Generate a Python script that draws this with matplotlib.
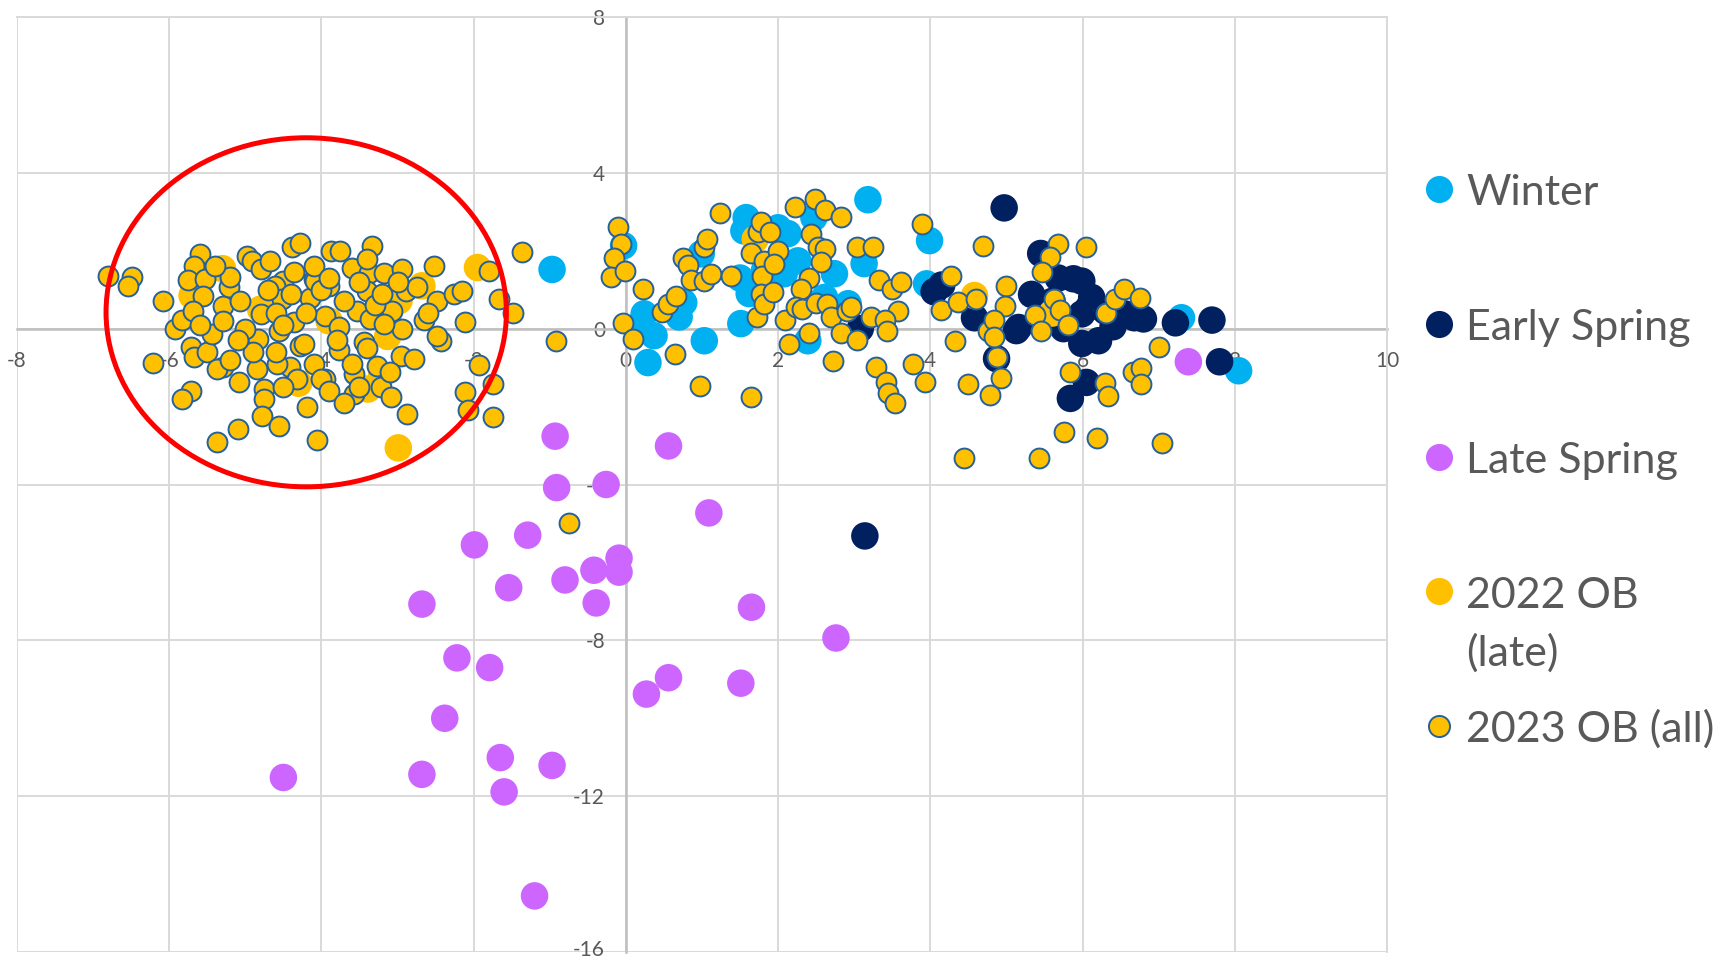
import matplotlib
matplotlib.use("Agg")
import matplotlib.pyplot as plt
import matplotlib.transforms as mtransforms
from matplotlib.patches import Ellipse
from matplotlib.lines import Line2D

plt.rcParams['font.family'] = ['Lato', 'DejaVu Sans']

# ---------------- data ----------------
series_names = ["Winter", "Early Spring", "Late Spring", "2022 OB\n(late)", "2023 OB (all)"]

winter_pts = [(-0.97, 1.52), (-0.03, 2.13), (0.24, 0.38), (0.29, -0.87), (0.37, -0.18),
              (0.18, 0.10), (0.76, 0.67), (0.70, 0.30), (1.03, -0.31), (0.99, 1.92),
              (1.51, 0.13), (1.58, 2.85), (1.55, 2.51), (1.62, 0.90), (1.50, 1.30),
              (1.82, 1.49), (2.13, 2.44), (2.00, 2.59), (2.08, 1.41), (2.26, 1.74),
              (2.47, 2.85), (2.39, -0.31), (2.74, 1.41), (3.13, 1.67), (3.18, 3.31),
              (3.99, 2.26), (3.95, 1.15), (2.61, 0.80), (2.92, 0.64), (7.30, 0.28),
              (8.05, -1.08)]

early_spring_pts = [(4.97, 3.10), (5.45, 1.93), (3.14, -5.32), (4.05, 0.95), (4.15, 1.12),
                    (4.58, 0.28), (4.87, -0.77), (5.13, -0.05), (5.33, 0.88), (5.68, 1.30),
                    (5.88, 1.28), (5.99, 1.22), (6.08, 0.55), (6.12, 0.80), (5.99, 0.38),
                    (6.30, 0.45), (6.55, 0.38), (6.68, 0.28), (5.16, 0.03), (5.99, -0.38),
                    (6.21, -0.31), (7.22, 0.15), (7.70, 0.22), (7.80, -0.85), (6.05, -1.38),
                    (5.84, -1.79), (3.08, 0.00), (5.60, 0.70), (5.75, 0.00), (6.40, 0.05),
                    (6.80, 0.25)]

late_spring_pts = [(-0.93, -2.76), (0.56, -3.01), (-0.91, -4.08), (-0.26, -4.00), (1.09, -4.73),
                   (-1.29, -5.30), (-1.99, -5.55), (-0.09, -5.89), (-0.42, -6.20), (-0.09, -6.25),
                   (-0.80, -6.45), (-1.54, -6.65), (-0.39, -7.04), (-2.68, -7.07), (1.65, -7.15),
                   (2.76, -7.94), (-2.22, -8.45), (-1.79, -8.70), (0.56, -8.96), (0.27, -9.38),
                   (1.51, -9.10), (-2.38, -10.00), (-1.65, -11.01), (-0.97, -11.21), (-2.68, -11.44),
                   (-1.60, -11.89), (-4.50, -11.52), (-1.20, -14.56), (7.39, -0.85)]

ob2022_pts = [(-5.30, 1.54), (-5.70, 0.85), (-1.95, 1.57), (-2.99, -3.06), (-3.13, -0.20),
              (-3.21, -1.20), (-3.39, -1.55), (-2.68, 1.10), (-2.98, 0.72), (-4.30, -1.40),
              (-3.90, 0.20), (-4.80, 0.50), (4.58, 0.85), (1.70, 2.30), (5.60, 0.40)]

ob2023_pts = [
    (-6.80, 1.36), (-6.49, 1.32), (-6.54, 1.10), (-6.08, 0.70), (-6.21, -0.89), (-5.60, 1.91),
    (-5.68, 1.62), (-5.75, 1.25), (-5.53, 1.27), (-5.55, 0.85), (-5.92, -0.01), (-5.83, 0.21),
    (-5.69, 0.46), (-5.72, -0.48), (-5.68, -0.74), (-5.51, -0.61), (-5.44, -0.14), (-5.29, 0.59),
    (-5.22, 1.06), (-5.20, 1.32), (-5.07, 0.72), (-5.29, -0.99), (-5.37, -1.03), (-5.72, -1.59),
    (-5.83, -1.80), (-5.08, -1.37), (-5.37, -2.91), (-5.10, -2.57), (-4.98, 1.87), (-4.91, 1.74),
    (-4.80, 1.53), (-4.67, 1.74), (-4.50, 1.23), (-4.61, 1.10), (-4.80, 0.38), (-4.83, -0.26),
    (-4.56, -0.05), (-4.85, -1.03), (-4.76, -1.55), (-4.76, -1.80), (-4.78, -2.23), (-4.56, -2.49),
    (-4.39, 2.09), (-4.28, 2.21), (-4.36, 1.45), (-4.52, 0.76), (-4.36, 0.16), (-4.28, -0.44),
    (-4.41, -0.99), (-4.32, -1.29), (-4.19, -2.02), (-4.10, 1.27), (-4.15, 0.80), (-4.06, -2.87),
    (-4.58, -0.90),
    (-3.88, 2.00), (-3.75, 2.00), (-3.33, 2.13), (-3.60, 1.57), (-3.38, 1.44), (-3.18, 1.44),
    (-2.94, 1.53), (-2.52, 1.62), (-4.08, 1.23), (-3.90, 1.10), (-3.40, 0.97), (-2.89, 0.97),
    (-2.74, 1.06), (-2.48, 0.72), (-2.26, 0.89), (-2.15, 0.97), (-3.53, 0.46), (-3.07, 0.46),
    (-3.95, 0.33), (-3.36, 0.25), (-3.77, 0.03), (-2.94, -0.01), (-2.65, 0.21), (-3.18, 0.12),
    (-3.44, -0.35), (-2.43, -0.31), (-2.48, -0.18), (-2.11, 0.16), (-1.80, 1.49), (-1.67, 0.76),
    (-1.48, 0.40), (-1.36, 1.98), (-4.23, -0.39), (-3.77, -0.56), (-2.96, -0.69), (-2.78, -0.78),
    (-4.10, -0.91), (-3.95, -1.29), (-3.57, -1.16), (-3.27, -0.95), (-3.57, -1.68), (-3.22, -1.50),
    (-3.09, -1.76), (-2.88, -2.20), (-1.93, -0.92), (-2.11, -1.63), (-1.74, -1.42), (-2.08, -2.09),
    (-1.74, -2.27),
    (-4.00, 1.00), (-3.70, 0.70), (-4.60, 0.40), (-5.00, 0.00), (-3.80, -0.30), (-4.90, -0.60),
    (-5.30, 0.20), (-3.50, 1.20), (-4.40, 0.90), (-5.10, -0.30), (-3.60, -0.90), (-4.00, -1.30),
    (-4.50, -1.50), (-3.90, -1.60), (-4.70, 1.00), (-3.30, 0.60), (-5.40, 1.60), (-4.10, 1.60),
    (-3.90, 1.30), (-4.50, 0.10), (-4.20, 0.40), (-3.40, -0.50), (-5.60, 0.10), (-3.10, -1.10),
    (-3.20, 0.90), (-3.70, -1.90), (-3.50, -1.50), (-2.60, 0.40), (-4.60, -0.60), (-5.20, -0.80),
    (-3.40, 1.80), (-3.00, 1.20),
    (-0.92, -0.32), (-0.10, 2.62), (-0.07, 2.17), (-0.15, 1.81), (-0.19, 1.32), (-0.01, 1.47),
    (0.22, 1.02), (-0.04, 0.14), (0.09, -0.27), (0.48, 0.44), (0.55, 0.63), (0.66, 0.85),
    (0.65, -0.65), (0.75, 1.81), (0.82, 1.64), (0.85, 1.25), (1.03, 2.09), (1.07, 2.30),
    (1.03, 1.23), (1.12, 1.40), (1.23, 2.98), (1.38, 1.36), (0.98, -1.46), (1.64, -1.76),
    (1.72, 0.29), (1.73, 2.47), (1.78, 2.73), (1.89, 2.47), (1.65, 1.93), (1.82, 1.74),
    (1.79, 1.36), (1.78, 0.89), (1.81, 0.63), (1.93, 0.93), (2.00, 2.00), (1.95, 1.66),
    (2.09, 0.21), (2.14, -0.39), (2.22, 3.13), (2.48, 3.33), (2.62, 3.04), (2.82, 2.87),
    (2.43, 2.43), (2.52, 2.09), (2.61, 2.04), (2.57, 1.70), (2.41, 1.30), (2.30, 1.02),
    (2.24, 0.55), (2.32, 0.50), (2.40, -0.12), (2.50, 0.65), (2.64, 0.63), (2.70, 0.31),
    (2.83, -0.11), (2.90, 0.46), (2.96, 0.55), (3.03, -0.29), (2.72, -0.82), (3.03, 2.10),
    (3.25, 2.09), (3.22, 0.29), (3.32, 1.25), (3.49, 1.02), (3.61, 1.19), (3.57, 0.46),
    (3.40, 0.21), (3.43, -0.05), (3.29, -0.99), (3.42, -1.38), (3.44, -1.66), (3.54, -1.91),
    (3.77, -0.91), (3.93, -1.38), (3.89, 2.68), (4.14, 0.48), (4.27, 1.36), (4.33, -0.31),
    (4.37, 0.68), (4.60, 0.76), (4.69, 2.13), (4.50, -1.42), (4.79, -1.69), (4.93, -1.26),
    (4.88, -0.72), (4.76, -0.05), (5.00, 1.10), (4.98, 0.59), (-0.75, -5.00), (4.44, -3.32),
    (5.68, 2.17), (6.05, 2.10), (5.57, 1.85), (5.47, 1.45), (5.38, 0.35), (5.45, -0.05),
    (5.62, 0.76), (5.70, 0.49), (5.81, 0.10), (6.31, 0.40), (6.42, 0.76), (6.55, 1.02),
    (6.75, 0.79), (7.01, -0.46), (5.84, -1.10), (6.30, -1.40), (6.33, -1.74), (6.66, -1.10),
    (6.77, -1.02), (6.77, -1.42), (5.76, -2.64), (6.19, -2.80), (5.43, -3.32), (7.04, -2.94),
    (4.84, 0.21), (4.84, -0.22),
]

x_ticks = [-8, -6, -4, -2, 0, 2, 4, 6, 8, 10]
y_ticks = [-16, -12, -8, -4, 0, 4, 8]

# highlighted region (red ellipse) in data units
ellipse_center = (-4.2, 0.42)
ellipse_size = (5.26, 8.96)

# ---------------- styling ----------------
c_winter = "#00B0F0"
c_early = "#002060"
c_late = "#CC66FF"
c_ob = "#FFC000"
c_ob_edge = "#26619C"
text_grey = "#595959"

W, H = 1721, 960
fig = plt.figure(figsize=(W / 100, H / 100), dpi=100)
ax = fig.add_axes([17 / W, (H - 952) / H, (1387 - 17) / W, (952 - 17) / H])

def xy(pts):
    xs, ys = zip(*pts)
    return list(xs), list(ys)

big = 392
small = 205
for pts, col in [(winter_pts, c_winter), (early_spring_pts, c_early), (late_spring_pts, c_late),
                 (ob2022_pts, c_ob)]:
    xs, ys = xy(pts)
    ax.scatter(xs, ys, s=big, c=col, edgecolors='none', zorder=3)
xs, ys = xy(ob2023_pts)
ax.scatter(xs, ys, s=small, c=c_ob, edgecolors=c_ob_edge, linewidths=1.4, zorder=4)

ax.add_patch(Ellipse(ellipse_center, ellipse_size[0], ellipse_size[1], fill=False,
                     ec="#FF0000", lw=3.6, zorder=6))

ax.set_xlim(-8, 10)
ax.set_ylim(-16, 8)
ax.set_xticks(x_ticks)
ax.set_yticks(y_ticks)
ax.set_xticklabels([str(v) for v in x_ticks])
ax.set_yticklabels([str(v) for v in y_ticks])

ax.grid(True, color="#D9D9D9", lw=1.4)
ax.set_axisbelow(True)
for l in ax.get_xgridlines() + ax.get_ygridlines():
    l.set_clip_on(False)

ax.spines['left'].set_position(('data', 0))
ax.spines['bottom'].set_position(('data', 0))
for s in ['left', 'bottom']:
    ax.spines[s].set_color("#BFBFBF")
    ax.spines[s].set_linewidth(1.8)
    ax.spines[s].set_zorder(2)
for s in ['top', 'right']:
    ax.spines[s].set_color("#D9D9D9")
    ax.spines[s].set_linewidth(1.4)
ax.tick_params(axis='both', length=0, labelsize=15, labelcolor=text_grey)
ax.tick_params(axis='x', pad=16)
ax.tick_params(axis='y', pad=15)

# keep the bottom-most y label inside the figure edge
bottom_lbl = ax.get_yticklabels()[0]
bottom_lbl.set_transform(bottom_lbl.get_transform() +
                         mtransforms.ScaledTranslation(0, 4 / 100, fig.dpi_scale_trans))

# ---------------- legend (manual, right side) ----------------
leg_x_marker = 1439 / W
leg_x_text = 1466 / W
leg_marker_y = [189, 324, 457, 591, 726]     # marker centres (px from top)
leg_text_baseline = [205, 340, 473, 666, 742]  # baseline of last text line (px from top)
leg_fs = 31
for name, ym, yb, col, kind in zip(series_names, leg_marker_y, leg_text_baseline,
                                   [c_winter, c_early, c_late, c_ob, c_ob],
                                   ['big', 'big', 'big', 'big', 'edge']):
    if kind == 'big':
        m = Line2D([leg_x_marker], [1 - ym / H], marker='o', ms=19.5, mfc=col, mec='none',
                   ls='none', transform=fig.transFigure)
    else:
        m = Line2D([leg_x_marker], [1 - ym / H], marker='o', ms=15.2, mfc=col, mec=c_ob_edge,
                   mew=1.4, ls='none', transform=fig.transFigure)
    fig.add_artist(m)
    fig.text(leg_x_text, 1 - yb / H, name, fontsize=leg_fs, color=text_grey,
             ha='left', va='baseline', linespacing=1.56)

fig.savefig("out.png", dpi=100)
